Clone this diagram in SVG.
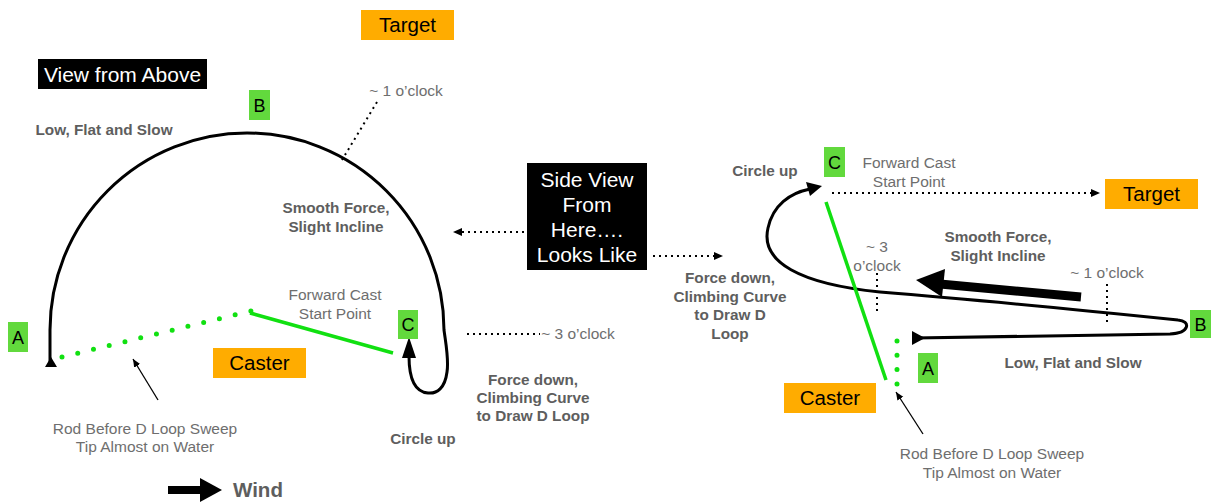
<svg xmlns="http://www.w3.org/2000/svg" width="1211" height="502" viewBox="0 0 1211 502">
<defs>
<style>
.lbl{font-family:"Liberation Sans",Arial,sans-serif;font-size:15.5px;fill:#6e6e6e;text-anchor:middle}
.bold{font-family:"Liberation Sans",Arial,sans-serif;font-size:15.3px;font-weight:bold;fill:#5e5e5e;text-anchor:middle}
.box{font-family:"Liberation Sans",Arial,sans-serif;font-size:20.5px;fill:#000;text-anchor:middle}
.wbox{font-family:"Liberation Sans",Arial,sans-serif;font-size:21px;fill:#fff;text-anchor:middle}
.gl{font-family:"Liberation Sans",Arial,sans-serif;font-size:18px;fill:#000;text-anchor:middle}
.orange{fill:#ffac00}
.green{fill:#62d93d}
.dot{fill:none;stroke:#000;stroke-width:2;stroke-dasharray:2 4}
.path{fill:none;stroke:#000;stroke-width:3;stroke-linecap:round}
.rod{fill:none;stroke:#11e011;stroke-width:3.5}
.rodDot{fill:none;stroke:#11e011;stroke-width:5;stroke-linecap:round}
</style>
<marker id="ah" markerUnits="userSpaceOnUse" markerWidth="10" markerHeight="10" refX="9" refY="4" orient="auto">
<path d="M0,0 L9,4 L0,8 z" fill="#000"/>
</marker>
<marker id="ahs" markerUnits="userSpaceOnUse" markerWidth="10" markerHeight="10" refX="8" refY="3.5" orient="auto">
<path d="M0,0 L8,3.5 L0,7 z" fill="#000"/>
</marker>
</defs>
<rect width="1211" height="502" fill="#fff"/>

<g id="connectors">
<path class="path" d="M50,363 L50,330 A197 197 0 0 1 444,330 C446,345 449,360 447,372 C445,388 437,394 428,393 C415,392 409,378 409,356"/>
<polygon points="409,337 402,358 416,358" fill="#000"/>
<polygon points="45,367 57,367 51,357" fill="#000"/>
<line class="rodDot" x1="62" y1="357" x2="253" y2="310.5" stroke-dasharray="0 16.2"/>
<line class="rod" x1="250" y1="313" x2="393" y2="353"/>
<line class="dot" x1="377" y1="102" x2="342" y2="160"/>
<line class="dot" x1="467" y1="334" x2="540" y2="334"/>
<line x1="158" y1="400" x2="133" y2="359" stroke="#000" stroke-width="1.3" marker-end="url(#ahs)"/>
<line class="dot" x1="524" y1="232" x2="453" y2="232" marker-end="url(#ah)"/>
<line class="dot" x1="653" y1="256" x2="723" y2="256" marker-end="url(#ah)"/>
<line x1="168" y1="490" x2="202" y2="490" stroke="#000" stroke-width="8"/>
<polygon points="200,478 222,490 200,502" fill="#000"/>

<path class="path" d="M914,338 L1170,334 C1190,333 1191,321 1178,320 C1100,312 980,300 880,292 C800,284 760,262 768,228 C773,205 790,193 810,189"/>
<polygon points="822,186 806,182 810,196" fill="#000"/>
<polygon points="912,331 912,345 925,338" fill="#000"/>
<line class="dot" x1="832" y1="193" x2="1100" y2="193" marker-end="url(#ah)"/>
<line class="rod" x1="826" y1="202" x2="886" y2="380"/>
<line class="rodDot" x1="897" y1="341" x2="897" y2="384" stroke-dasharray="0 14.3"/>
<line x1="1081" y1="297" x2="940" y2="284" stroke="#000" stroke-width="9"/>
<polygon points="916,280 945,269 942,297" fill="#000"/>
<line class="dot" x1="877" y1="273" x2="877" y2="313"/>
<line class="dot" x1="1107" y1="284" x2="1107" y2="326"/>
<line x1="923" y1="434" x2="896" y2="392" stroke="#000" stroke-width="1.3" marker-end="url(#ahs)"/>
</g>

<g id="target-left"><rect class="orange" x="361" y="10" width="93" height="30"/><text class="box" x="407.5" y="32">Target</text></g>
<g id="view-from-above"><rect x="38" y="59" width="169" height="30" fill="#000"/><text class="wbox" x="122.5" y="82">View from Above</text></g>
<g id="b-left"><rect class="green" x="249" y="90" width="21" height="30"/><text class="gl" x="259.5" y="112">B</text></g>
<g id="a-left"><rect class="green" x="8" y="322" width="20" height="30"/><text class="gl" x="18" y="344">A</text></g>
<g id="c-left"><rect class="green" x="398" y="310" width="20" height="29"/><text class="gl" x="408" y="331">C</text></g>
<g id="caster-left"><rect class="orange" x="213" y="348" width="93" height="30"/><text class="box" x="259.5" y="370">Caster</text></g>

<g id="labels-left">
<text class="lbl" x="406" y="96">~ 1 o’clock</text>
<text class="bold" x="104" y="135">Low, Flat and Slow</text>
<text class="bold" x="336" y="213">Smooth Force,</text>
<text class="bold" x="336" y="232">Slight Incline</text>
<text class="lbl" x="335" y="300">Forward Cast</text>
<text class="lbl" x="335" y="319">Start Point</text>
<text class="lbl" x="578" y="339">~ 3 o’clock</text>
<text class="bold" x="533" y="385">Force down,</text>
<text class="bold" x="533" y="403">Climbing Curve</text>
<text class="bold" x="533" y="421">to Draw D Loop</text>
<text class="bold" x="423" y="444">Circle up</text>
<text class="lbl" x="145" y="434">Rod Before D Loop Sweep</text>
<text class="lbl" x="145" y="452">Tip Almost on Water</text>
<text x="233" y="497" font-family="Liberation Sans, Arial, sans-serif" font-size="20.5" font-weight="bold" fill="#5e5e5e">Wind</text>
</g>

<g id="side-view"><rect x="527" y="163" width="120" height="107" fill="#000"/>
<text class="wbox" x="587" y="187">Side View</text>
<text class="wbox" x="587" y="212">From</text>
<text class="wbox" x="587" y="237">Here….</text>
<text class="wbox" x="587" y="262">Looks Like</text>
</g>

<g id="c-right"><rect class="green" x="824" y="147" width="21" height="30"/><text class="gl" x="834.5" y="169">C</text></g>
<g id="target-right"><rect class="orange" x="1105" y="179" width="93" height="30"/><text class="box" x="1151.5" y="201">Target</text></g>
<g id="a-right"><rect class="green" x="918" y="353" width="20" height="30"/><text class="gl" x="928" y="375">A</text></g>
<g id="caster-right"><rect class="orange" x="784" y="383" width="92" height="30"/><text class="box" x="830" y="405">Caster</text></g>
<g id="b-right"><rect class="green" x="1190" y="310" width="21" height="28"/><text class="gl" x="1200.5" y="331">B</text></g>

<g id="labels-right">
<text class="bold" x="765" y="176">Circle up</text>
<text class="lbl" x="909" y="168">Forward Cast</text>
<text class="lbl" x="909" y="187">Start Point</text>
<text class="bold" x="998" y="242">Smooth Force,</text>
<text class="bold" x="998" y="261">Slight Incline</text>
<text class="lbl" x="877" y="252">~ 3</text>
<text class="lbl" x="877" y="271">o’clock</text>
<text class="lbl" x="1107" y="278">~ 1 o’clock</text>
<text class="bold" x="730" y="283">Force down,</text>
<text class="bold" x="730" y="302">Climbing Curve</text>
<text class="bold" x="730" y="320">to Draw D</text>
<text class="bold" x="730" y="339">Loop</text>
<text class="bold" x="1073" y="368">Low, Flat and Slow</text>
<text class="lbl" x="992" y="459">Rod Before D Loop Sweep</text>
<text class="lbl" x="992" y="478">Tip Almost on Water</text>
</g>
</svg>
